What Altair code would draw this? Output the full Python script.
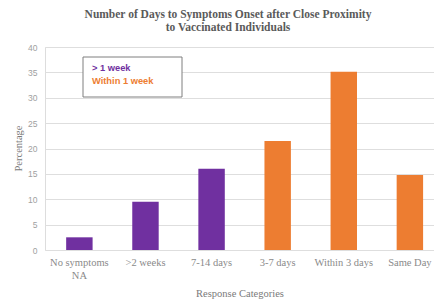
import altair as alt
import pandas as pd

categories = ["No symptoms|NA", ">2 weeks", "7-14 days", "3-7 days", "Within 3 days", "Same Day"]
percentages = [2.5, 9.5, 16.0, 21.5, 35.1, 14.8]
groups = ["> 1 week", "> 1 week", "> 1 week", "Within 1 week", "Within 1 week", "Within 1 week"]
legend_labels = ["> 1 week", "Within 1 week"]
legend_colors = ["#7030A0", "#ED7D31"]
y_ticks = [0, 5, 10, 15, 20, 25, 30, 35, 40]

df = pd.DataFrame({"cat": categories, "pct": percentages, "grp": groups})

SERIF = "'Liberation Serif', 'Times New Roman', serif"
SANS = "'Liberation Sans', Arial, sans-serif"

bars = alt.Chart(df).mark_bar().encode(
    x=alt.X("cat:N", sort=categories,
            scale=alt.Scale(paddingInner=0.6, paddingOuter=0.2425, align=0.66),
            axis=alt.Axis(title="Response Categories", labelAngle=0,
                          labelExpr="split(datum.label, '|')",
                          labelFont=SERIF, labelFontSize=10.5, labelColor="#8a8a8a",
                          labelLineHeight=13, labelPadding=7,
                          ticks=False, tickSize=0, domain=False, grid=False,
                          titleFont=SERIF, titleFontSize=10.5, titleFontWeight="normal",
                          titleColor="#7a7a7a", titleY=43, titleBaseline="middle")),
    y=alt.Y("pct:Q", scale=alt.Scale(domain=[0, 40], nice=False),
            axis=alt.Axis(title="Percentage", values=y_ticks,
                          labelFont=SANS, labelFontSize=8.5, labelColor="#a0a0a0",
                          labelPadding=8, ticks=False, tickSize=0, domain=False,
                          grid=True, gridColor="#dedede", gridWidth=1,
                          titleFont=SERIF, titleFontSize=10.5, titleFontWeight="normal",
                          titleColor="#7a7a7a", titleX=-27, titleY=101,
                          titleBaseline="middle", titleAngle=-90)),
    color=alt.Color("grp:N", scale=alt.Scale(domain=legend_labels, range=legend_colors), legend=None),
)

leg_df = pd.DataFrame({"label": legend_labels, "color": legend_colors, "ypix": [20.7, 33.7]})

box = alt.Chart(leg_df).mark_rect(fill="white", stroke="#7f7f7f", strokeWidth=1).encode(
    x=alt.value(38), x2=alt.value(137), y=alt.value(10), y2=alt.value(50)
).transform_filter(alt.datum.label == legend_labels[0])

leg_text = alt.Chart(leg_df).mark_text(align="left", baseline="middle", font=SANS,
                                       fontSize=9.3, fontWeight="bold").encode(
    x=alt.value(47),
    y=alt.Y("ypix:Q", scale=None),
    text="label:N",
    color=alt.Color("color:N", scale=None),
)

chart = alt.layer(bars, box, leg_text).properties(
    width=389, height=203,
    title=alt.Title(["Number of Days to Symptoms Onset after Close Proximity", "to Vaccinated Individuals"],
                    font=SERIF, fontSize=11.5, fontWeight="bold", color="#5a5a5a",
                    lineHeight=13, offset=9.5, anchor="middle", dx=-11.5),
    autosize=alt.AutoSizeParams(type="none"),
    padding={"left": 37, "top": 39, "right": 0, "bottom": 51},
).configure_view(stroke=None).configure(background="white")

chart.save("out.html", embed_options={"renderer": "svg", "actions": False})
